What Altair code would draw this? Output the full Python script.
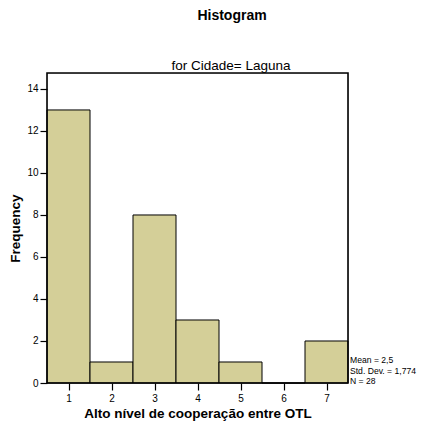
import altair as alt
import pandas as pd

bins = [1, 2, 3, 4, 5, 6, 7]
counts = [13, 1, 8, 3, 1, 0, 2]
y_ticks = [0, 2, 4, 6, 8, 10, 12, 14]
stats_lines = ["Mean = 2,5", "Std. Dev. = 1,774", "N = 28"]

df = pd.DataFrame({"lo": [b - 0.5 for b in bins], "hi": [b + 0.5 for b in bins], "count": counts})
FONT = "Liberation Sans"
W, H = 301, 310

xs = alt.Scale(domain=[0.5, 7.5], nice=False, zero=False)
ys = alt.Scale(domain=[0, 14.76], nice=False)

bars = alt.Chart(df).mark_rect(fill="#d4cf98", stroke="black", strokeWidth=1).encode(
    x=alt.X("lo:Q", scale=xs, axis=alt.Axis(values=bins, title="Alto nível de cooperação entre OTL",
                                            format="d", grid=False, domain=False, tickColor="black",
                                            tickSize=7, tickWidth=1.2, labelFontSize=10, labelColor="black",
                                            labelFont=FONT, labelPadding=3, titleFont=FONT, titleFontSize=13.5,
                                            titleFontWeight="bold", titleColor="black", titlePadding=3)),
    x2="hi:Q",
    y=alt.Y("count:Q", scale=ys, axis=alt.Axis(values=y_ticks, title="Frequency", grid=False,
                                               domain=False, tickColor="black", tickSize=7, tickWidth=1.2,
                                               labelFontSize=10, labelColor="black", labelFont=FONT,
                                               labelPadding=2,
                                               titleFont=FONT, titleFontSize=13.5, titleFontWeight="bold",
                                               titleColor="black", titlePadding=4)),
)

frame = alt.Chart(pd.DataFrame({"a": [0]})).mark_rect(fill=None, stroke="black", strokeWidth=1.6).encode(
    x=alt.value(0), x2=alt.value(W), y=alt.value(0), y2=alt.value(H)
)

title = alt.Chart(pd.DataFrame({"t": ["Histogram"]})).mark_text(
    font=FONT, fontSize=14, fontWeight="bold", color="black", align="center", baseline="middle"
).encode(x=alt.value(185), y=alt.value(-57), text="t:N")

sub = alt.Chart(pd.DataFrame({"t": ["for Cidade= Laguna"]})).mark_text(
    font=FONT, fontSize=13.5, color="black", align="center", baseline="middle"
).encode(x=alt.value(184), y=alt.value(-7), text="t:N")

stat_layers = []
for i, line in enumerate(stats_lines):
    stat_layers.append(
        alt.Chart(pd.DataFrame({"t": [line]})).mark_text(
            font=FONT, fontSize=8.6, color="black", align="left", baseline="middle"
        ).encode(x=alt.value(W + 2), y=alt.value(H - 23 + 10.5 * i), text="t:N")
    )

chart = alt.layer(bars, frame, title, sub, *stat_layers).properties(
    width=W, height=H,
    autosize=alt.AutoSizeParams(type="none"),
    padding={"left": 39, "top": 65, "right": 70, "bottom": 40},
).configure_view(stroke=None).configure(background="white")

chart.save("out.html", embed_options={"renderer": "svg", "actions": False})
